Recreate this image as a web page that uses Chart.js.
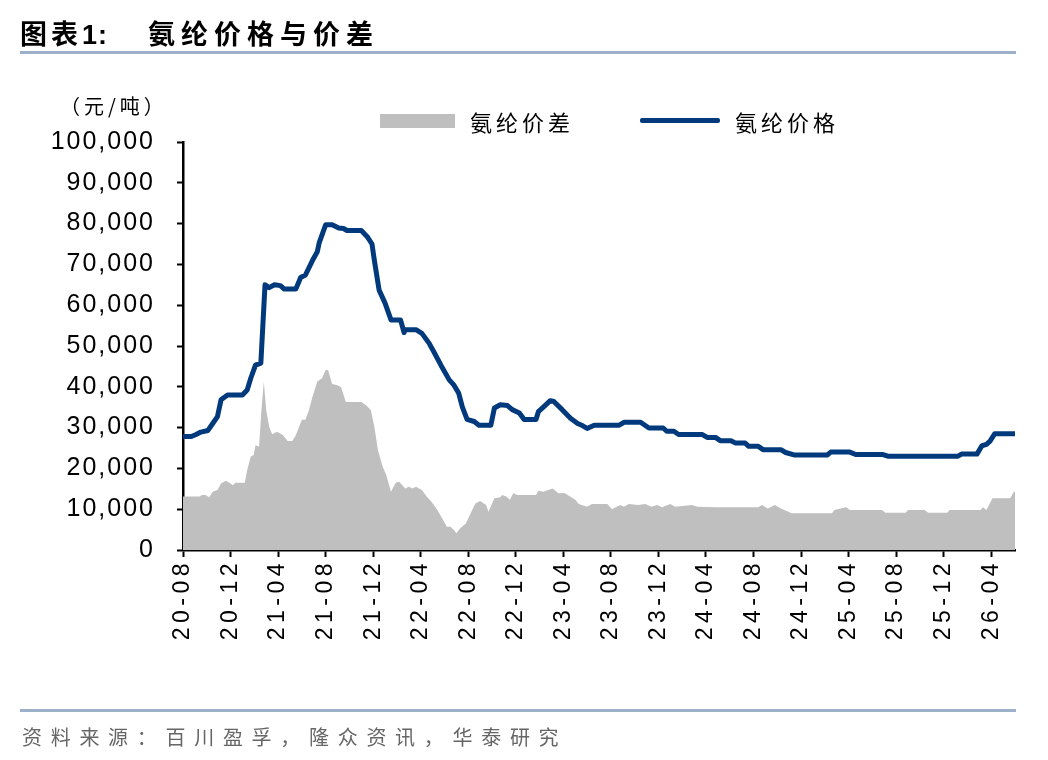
<!DOCTYPE html>
<html>
<head>
<meta charset="utf-8">
<script src="https://cdn.jsdelivr.net/npm/chart.js@4.4.1/dist/chart.umd.min.js"></script>
<style>
  html, body { margin: 0; padding: 0; background: #ffffff; }
  #wrap { position: relative; width: 1048px; height: 760px; overflow: hidden; background: #fff; }
  #c { position: absolute; left: 0; top: 0; }
  .t { position: absolute; white-space: nowrap; font-family: "Noto Sans CJK SC", "Noto Sans", sans-serif; }
  .rule { position: absolute; left: 20px; width: 996px; height: 3px; background: #9cb1c9; }
</style>
</head>
<body>
<div id="wrap">
  <canvas id="c" width="1048" height="760"></canvas>
  <div class="t" style="left:20px; top:13px; font-size:27px; font-weight:bold; letter-spacing:4px; color:#000;">图表<span style="font-family:'Liberation Sans',Arial,sans-serif; letter-spacing:1px;">1:</span></div>
  <div class="t" style="left:148px; top:13px; font-size:27px; font-weight:bold; letter-spacing:6px; color:#000;">氨纶价格与价差</div>
  <div class="rule" style="top:51px;"></div>
  <div class="t" style="left:60px; top:91px; font-size:20px; letter-spacing:4px; color:#000;">（元/吨）</div>
  <div style="position:absolute; left:380px; top:114px; width:75px; height:14px; background:#bfbfbf;"></div>
  <div class="t" style="left:470px; top:105px; font-size:22px; letter-spacing:4px; color:#000;">氨纶价差</div>
  <div style="position:absolute; left:640px; top:118px; width:80px; height:5px; background:#003a7d; border-radius:2px;"></div>
  <div class="t" style="left:735px; top:105px; font-size:22px; letter-spacing:4px; color:#000;">氨纶价格</div>
  <div class="rule" style="top:709px;"></div>
  <div class="t" style="left:22px; top:722px; font-size:20px; letter-spacing:8.7px; color:#666;">资料来源：百川盈孚，隆众资讯，华泰研究</div>
</div>
<script>
// x values are months since 2020-08
const tickMonths = [0, 4, 8, 12, 16, 20, 24, 28, 32, 36, 40, 44, 48, 52, 56, 60, 64, 68];
const tickLabels = ['20-08','20-12','21-04','21-08','21-12','22-04','22-08','22-12','23-04','23-08','23-12','24-04','24-08','24-12','25-04','25-08','25-12','26-04'];
const yTicks = [0, 10000, 20000, 30000, 40000, 50000, 60000, 70000, 80000, 90000, 100000];

const priceMonths = [0,0.7,1.1,1.5,2.1,2.5,2.9,3.2,3.75,5.0,5.4,5.7,6.1,6.55,6.9,7.25,7.7,8.2,8.5,9.5,9.9,10.3,10.9,11.3,11.45,12.0,12.55,13.1,13.5,13.8,15.0,15.5,15.9,16.1,16.5,17.0,17.5,18.3,18.6,18.7,19.6,20.1,20.7,21.1,21.7,22.4,22.8,23.2,23.5,23.9,24.5,24.9,25.9,26.2,26.7,27.3,27.7,28.3,28.7,29.7,29.9,30.5,30.9,31.2,31.9,32.6,33.2,33.6,34.0,34.6,36.7,37.1,38.5,39.2,40.4,40.7,41.3,41.7,43.7,44.1,44.8,45.2,46.1,46.5,47.3,47.6,48.4,48.8,50.3,50.7,51.4,54.2,54.5,56.1,56.6,58.9,59.3,65.2,65.5,66.8,67.2,67.6,67.9,68.3,70.0];
const priceValues = [27800,27800,28300,28900,29300,31000,32700,36800,38000,38000,39200,42100,45300,45800,65000,64300,65000,64800,64000,64000,66800,67400,71000,73100,75200,79700,79700,78900,78800,78300,78300,76800,75000,71000,63700,60500,56400,56400,53300,54000,54000,53100,50700,48600,45300,41700,40400,38400,35100,32000,31500,30600,30600,34800,35600,35400,34400,33600,32000,32000,33900,35500,36600,36400,34400,32300,31000,30500,29800,30600,30600,31300,31300,29900,29900,29100,29100,28300,28300,27600,27600,26800,26800,26200,26200,25400,25400,24600,24600,23900,23300,23300,24000,24000,23400,23400,23000,23000,23500,23500,25500,25900,26700,28500,28500];

const spreadMonths = [0,1.4,1.6,1.9,2.2,2.5,2.9,3.2,3.6,3.9,4.2,4.4,5.2,5.4,5.7,5.95,6.1,6.4,6.6,6.8,7.0,7.25,7.5,7.9,8.4,8.8,9.2,9.5,10.0,10.3,10.6,10.9,11.3,11.7,12.0,12.2,12.55,13.0,13.3,13.7,15.0,15.4,15.8,16.1,16.4,16.8,17.1,17.5,17.9,18.2,18.45,18.7,19.0,19.3,19.6,20.1,20.5,20.9,21.4,21.8,22.2,22.5,22.8,23.0,23.3,23.8,24.2,24.6,25.0,25.5,25.7,26.2,26.7,26.85,27.2,27.5,27.8,28.1,29.7,29.9,30.3,31.1,31.6,32.1,33.0,33.3,34.0,34.4,35.7,36.1,36.4,36.8,37.1,37.5,38.3,38.9,39.4,39.9,40.3,41.0,41.4,42.8,43.3,44.8,48.4,48.7,49.2,49.8,50.3,51.2,54.6,54.8,55.8,56.1,58.8,59.1,60.8,61.0,62.4,62.7,64.3,64.5,67.1,67.3,67.6,68.1,69.6,69.9,70.0];
const spreadValues = [13100,13100,13500,13500,12900,14300,14700,16300,17000,16500,15900,16500,16500,19600,22900,23300,25700,25300,34300,41300,34300,30200,28400,29000,28200,26700,26700,28200,31900,31900,34300,37600,41300,42100,44100,44100,40700,40400,39900,36300,36300,35500,34300,30200,24500,20400,18400,14300,16500,16700,15900,15100,15500,15100,15500,14700,13100,11800,9800,7800,5700,5700,4900,4100,5300,6500,9000,11400,12000,11000,9400,12700,12900,13500,13100,12300,14000,13500,13500,14500,14300,15100,13900,14000,12300,11300,10600,11300,11300,10000,10500,11000,10600,11300,11000,11300,10600,11000,10500,11300,10600,11000,10600,10500,10500,11000,10200,11000,10200,9000,9000,9800,10500,9800,9800,9100,9100,9800,9800,9100,9100,9800,9800,10500,9800,12700,12700,14300,14300];

const pricePoints = priceMonths.map((m, i) => ({ x: m, y: priceValues[i] }));
const spreadPoints = spreadMonths.map((m, i) => ({ x: m, y: spreadValues[i] }));

function withSpacing(scale, sp) {
  const orig = scale.drawLabels;
  scale.drawLabels = function (area) {
    const ctx = this.ctx;
    ctx.save();
    try { ctx.letterSpacing = sp; } catch (e) {}
    orig.call(this, area);
    ctx.restore();
  };
}

const spacingPlugin = {
  id: 'spacing',
  afterLayout(chart) {
    if (!chart.scales.x._spaced) { withSpacing(chart.scales.x, '4.5px'); chart.scales.x._spaced = true; }
    if (!chart.scales.y._spaced) { withSpacing(chart.scales.y, '2px'); chart.scales.y._spaced = true; }
  }
};

new Chart(document.getElementById('c'), {
  type: 'line',
  data: {
    datasets: [
      {
        label: '氨纶价格',
        data: pricePoints,
        borderColor: '#003a7d',
        borderWidth: 5,
        borderJoinStyle: 'round',
        borderCapStyle: 'round',
        pointRadius: 0,
        tension: 0,
        fill: false,
        order: 0
      },
      {
        label: '氨纶价差',
        data: spreadPoints,
        borderWidth: 0,
        borderColor: 'rgba(0,0,0,0)',
        backgroundColor: '#bfbfbf',
        pointRadius: 0,
        tension: 0,
        fill: 'origin',
        order: 1
      }
    ]
  },
  options: {
    responsive: false,
    animation: false,
    events: [],
    layout: { padding: { left: 0, top: 142, right: 33, bottom: 0 } },
    plugins: { legend: { display: false }, title: { display: false }, tooltip: { enabled: false } },
    scales: {
      x: {
        type: 'linear',
        min: 0,
        max: 70,
        afterBuildTicks: (axis) => { axis.ticks = tickMonths.map(v => ({ value: v })); },
        afterFit: (axis) => { axis.height = 210; },
        grid: { display: true, drawOnChartArea: false, drawTicks: true, tickLength: 7, tickWidth: 2, tickColor: '#000' },
        border: { display: true, color: '#000', width: 2.5 },
        ticks: {
          autoSkip: false,
          minRotation: 90,
          maxRotation: 90,
          padding: 2,
          color: '#000',
          font: { family: "'Liberation Sans', Arial, sans-serif", size: 23 },
          callback: (v) => { const i = tickMonths.indexOf(v); return i >= 0 ? tickLabels[i] : ''; }
        }
      },
      y: {
        type: 'linear',
        min: 0,
        max: 100000,
        afterBuildTicks: (axis) => { axis.ticks = yTicks.map(v => ({ value: v })); },
        afterFit: (axis) => { axis.width = 183; },
        grid: { display: true, drawOnChartArea: false, drawTicks: true, tickLength: 6, tickWidth: 2, tickColor: '#000' },
        border: { display: true, color: '#000', width: 2.5 },
        ticks: {
          padding: 22,
          color: '#000',
          font: { family: "'Liberation Sans', Arial, sans-serif", size: 25 },
          callback: (v) => Number(v).toLocaleString('en-US')
        }
      }
    }
  },
  plugins: [spacingPlugin]
});
</script>
</body>
</html>
